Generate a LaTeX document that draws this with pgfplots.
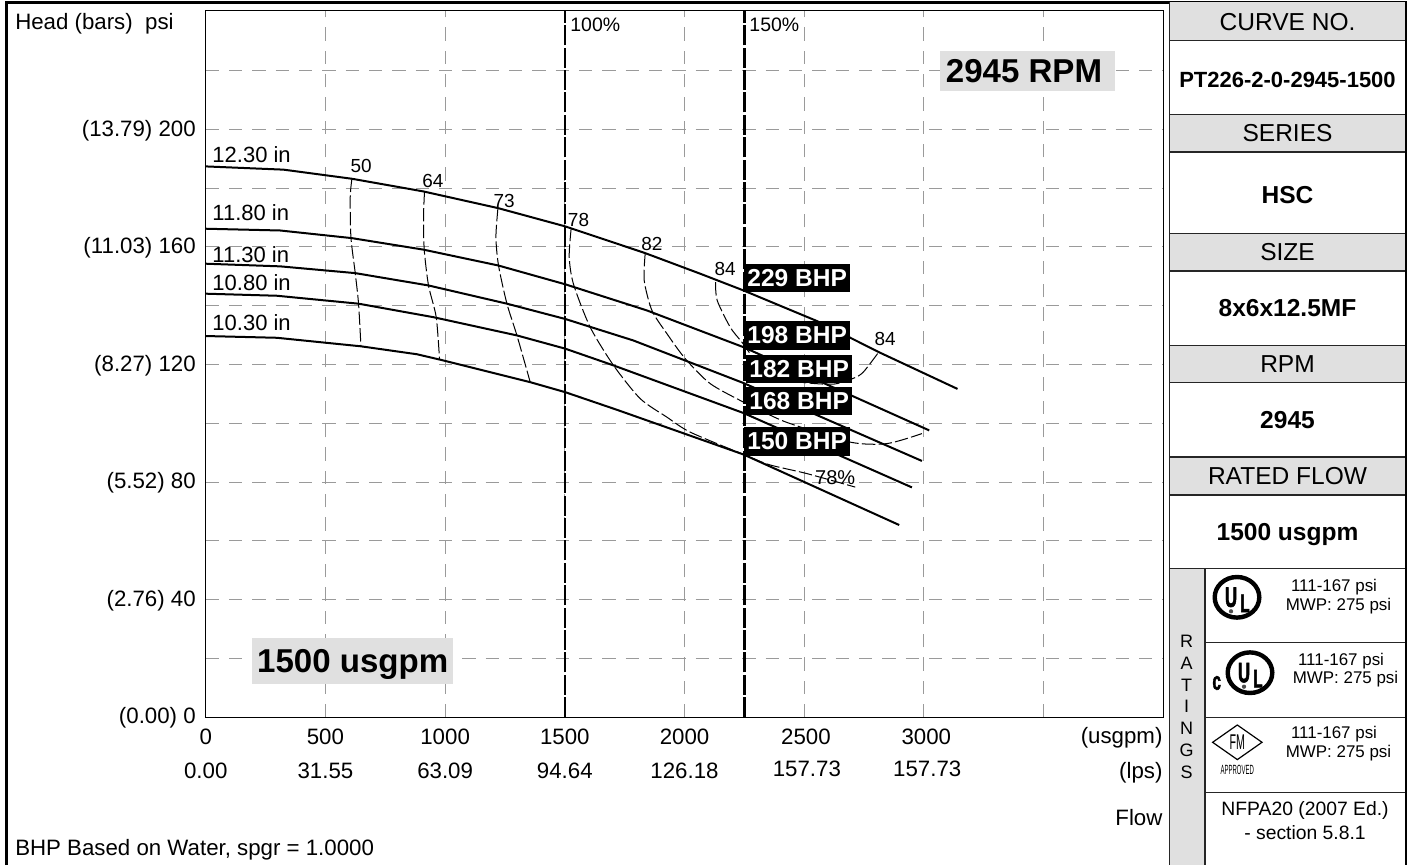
\documentclass[border=0pt]{standalone}
\usepackage{fontspec}
\usepackage{graphicx}
\usepackage{pgfplots}
\pgfplotsset{compat=1.18}
\setmainfont{Liberation Sans}
\newfontfamily\logofont[FakeBold=2.5]{Liberation Sans Bold}
\definecolor{panelgray}{HTML}{E0E0E0}
\definecolor{gridgray}{HTML}{9A9A9A}
\newcommand{\fs}[1]{\fontsize{#1}{#1}\selectfont}
\tikzset{
  head/.style={black, line width=1.5pt},
  eff/.style={black, line width=0.75pt, dash pattern=on 10pt off 2.5pt, smooth, tension=0.45},
  rated/.style={black, line width=1.9pt, dash pattern=on 15pt off 1.8pt},
  bhp/.style={fill=black, text=white, inner sep=0pt, minimum width=79.5pt, minimum height=21.4pt, font=\fs{18.4}\bfseries},
  effl/.style={inner sep=0pt, font=\fs{14.2}},
  diam/.style={inner sep=0pt, anchor=west, font=\fs{16.5}},
  banner/.style={fill=panelgray, inner sep=0pt, font=\fs{24.8}\bfseries, text height=17.8pt, text depth=0pt},
  cell/.style={inner sep=0pt, text height=13.2pt, text depth=0pt},
}
\begin{document}
\begin{tikzpicture}
\path[use as bounding box] (0,0) rectangle (1059.75pt,648.75pt);
\begin{axis}[
  at={(154.3pt,110.8pt)}, anchor=origin,
  scale only axis,
  width=718.2pt, height=530.2pt,
  xmin=0, xmax=4000, ymin=0, ymax=240.5,
  xtick={0,500,1000,1500,2000,2500,3000,3500},
  xticklabels={0\\0.00, 500\\31.55, 1000\\63.09, 1500\\94.64, 2000\hspace{4pt}\\126.18\hspace{3.5pt}, \hspace{2.5pt}2500\\[-1.3pt]\hspace{4pt}157.73, \hspace{3.5pt}3000\\[-1.3pt]\hspace{5pt}157.73, {}},
  ytick={0,40,80,120,160,200},
  yticklabels={(0.00) 0,(2.76) 40,(5.52) 80,(8.27) 120,(11.03) 160,(13.79) 200},
  minor ytick={20,60,100,140,180,220},
  major tick length=0pt, minor tick length=0pt,
  grid=both,
  major grid style={gridgray, line width=0.7pt, dash pattern=on 10pt off 7.5pt},
  minor grid style={gridgray, line width=0.7pt, dash pattern=on 10pt off 7.5pt},
  axis line style={black, line width=0.9pt},
  x tick label style={font=\fontsize{16.7}{25}\selectfont, align=center, anchor=north, inner sep=0pt, yshift=-8.9pt},
  y tick label style={font=\fs{16.7}, anchor=east, inner sep=0pt, xshift=-7.3pt, yshift=-0.7pt},
]
% head curves
\addplot[head] coordinates {(0,187.4) (325,186.3) (610.7,183.2) (908.5,178.9) (1221.8,173.2) (1501.6,167.0) (1835.8,157.9) (2065.5,150.9) (2246.4,145.2) (2553,134.8) (2817.4,124.0) (3140.3,111.7)};
\addplot[head] coordinates {(0,166.2) (311,165.6) (610.7,163.0) (908.5,159.1) (1221.8,153.7) (1501.6,147.3) (1842.9,138.4) (2246.4,125.9) (3022,97.6)};
\addplot[head] coordinates {(0,154.3) (311,153.4) (624.5,151.1) (930.6,146.9) (1258.1,140.7) (1501.6,135.5) (1785.7,128.2) (2246.4,113.7) (2991.6,87.2)};
\addplot[head] coordinates {(0,144.1) (297.4,143.4) (638.3,140.7) (951.5,136.1) (1299.9,129.9) (1501.6,125.4) (1703.4,119.7) (2246.4,103.5) (2949.8,78.2)};
\addplot[head] coordinates {(0,129.7) (297.4,129.1) (648.3,126.2) (882.2,123.5) (976.6,121.7) (1355.4,114.0) (1501.6,110.6) (1717.6,104.6) (2246.4,89.4) (2896.8,65.4)};
% efficiency curves
\addplot[eff] coordinates {(610.7,183.2) (603.6,177.0) (606.5,163.3) (624.5,151.1) (638.3,140.7) (648.3,126.2)};
\addplot[eff] coordinates {(913.9,178.9) (909.7,170.2) (912.7,159.1) (930.6,146.9) (962.8,136.1) (976.6,121.7)};
\addplot[eff] coordinates {(1220.5,173.2) (1212.2,163.3) (1223,153.7) (1258.1,140.7) (1299.9,129.9) (1355.4,114.0)};
\addplot[eff] coordinates {(1526.7,166.5) (1518.3,156.6) (1536.3,147.3) (1606,132.7) (1703.4,119.7) (1814.9,108.4) (1926.4,102.1) (2023.8,97.0) (2246.4,89.4) (2355,85.9) (2511.2,82.9) (2713,78.3)};
\addplot[eff] coordinates {(1835.8,157.9) (1831.6,148.6) (1863.8,138.4) (1926.4,130.5) (2002.9,122.0) (2107.3,113.5) (2246.4,107.2) (2344.1,103.3) (2441.5,99.9) (2692.1,93.6) (2845.4,93.1) (2991.6,96.5)};
\addplot[eff] coordinates {(2129.4,148.0) (2136.5,141.8) (2190.8,132.7) (2239.7,127.6) (2316.2,119.7) (2441.5,114.6) (2615.6,113.3) (2704.6,115.3) (2746.4,117.4) (2809,124.0)};
% 100% and 150% of rated flow
\addplot[rated] coordinates {(1500,0) (1500,240.5)};
\addplot[rated] coordinates {(2250,0) (2250,240.5)};
\node[effl, font=\fs{14.6}, anchor=west] at (axis cs:1522,235.7) {100\%};
\node[effl, font=\fs{14.6}, anchor=west] at (axis cs:2270,235.7) {150\%};
% diameters
\node[diam] at (axis cs:27,191.4) {12.30 in};
\node[diam] at (axis cs:27,171.7) {11.80 in};
\node[diam] at (axis cs:27,157.5) {11.30 in};
\node[diam] at (axis cs:27,147.9) {10.80 in};
\node[diam] at (axis cs:27,134.3) {10.30 in};
% efficiency labels
\node[effl] at (axis cs:649.5,187.4) {50};
\node[effl] at (axis cs:949,182.4) {64};
\node[effl] at (axis cs:1246.8,175.8) {73};
\node[effl] at (axis cs:1557.2,169.3) {78};
\node[effl] at (axis cs:1863.8,161.1) {82};
\node[effl] at (axis cs:2170,152.6) {84};
\node[effl] at (axis cs:2838.3,128.8) {84};
\node[effl, font=\fs{15}] at (axis cs:2629.4,81.5) {78\%};
% bhp
\node[bhp] at (axis cs:2470.7,149.5) {229 BHP};
\node[bhp] at (axis cs:2470.7,129.9) {198 BHP};
\node[bhp] at (axis cs:2479,118.5) {182 BHP};
\node[bhp] at (axis cs:2479,107.6) {168 BHP};
\node[bhp] at (axis cs:2470.7,93.9) {150 BHP};
% banners
\node[fill=panelgray, inner sep=0pt, minimum width=131pt, minimum height=30pt] at (axis cs:3433.5,220) {};
\node[banner, fill=none] at (axis cs:3418,220) {2945 RPM};
\node[banner, minimum width=151pt, minimum height=34pt] at (axis cs:614,19.2) {1500 usgpm};
\end{axis}
% frame and title block, in reference pixels
\begin{scope}[x=0.75pt, y=-0.75pt, yshift=648.75pt]
\draw[line width=2.2pt] (6.7,865) -- (6.7,2.5) -- (1406,2.5) -- (1406,865);
\node[anchor=west, inner sep=0pt, font=\fs{16.7}] at (15,24) {Head (bars)\ \ psi};
\node[anchor=east, inner sep=0pt, font=\fs{16.7}] at (1162.7,738) {(usgpm)};
\node[anchor=east, inner sep=0pt, font=\fs{16.7}] at (1162.7,773) {(lps)};
\node[anchor=east, inner sep=0pt, font=\fs{16.7}] at (1162.7,818) {Flow};
\node[anchor=west, inner sep=0pt, font=\fs{16.7}, text height=12pt, text depth=0pt] at (15,847) {BHP Based on Water, spgr = 1.0000};
% gray header rows
\foreach \a/\b in {2.5/40.3, 114.3/152, 233.7/271, 345.3/382.7, 457/495} \fill[panelgray] (1169.3,\a) rectangle (1406,\b);
\fill[panelgray] (1169.3,568.7) rectangle (1205,865);
\draw[line width=1.1pt, black!85] (1169.3,2.5) -- (1169.3,865);
\draw[line width=0.9pt, black!85] (1205,568.7) -- (1205,865);
\foreach \y in {40.3, 114.3, 152, 233.7, 271, 345.3, 382.7, 457, 495} \draw[line width=0.9pt, black!85] (1169.3,\y) -- (1406,\y);
\draw[line width=1.1pt, black!85] (1169.3,568.7) -- (1406,568.7);
\foreach \y in {642.7, 717.7, 792.3} \draw[line width=0.8pt, black!85] (1205,\y) -- (1406,\y);
\draw[line width=2.2pt] (1406,2.5) -- (1406,865);
\foreach \y/\t in {21.7/CURVE NO., 133/SERIES, 252/SIZE, 364/RPM, 476/RATED FLOW} \node[cell, font=\fs{18.4}] at (1287.5,\y) {\t};
\node[cell, text height=11.8pt, font=\fs{16.5}\bfseries] at (1287.5,80) {PT226-2-0-2945-1500};
\foreach \y/\t in {195/HSC, 308/8x6x12.5MF, 420/2945, 532/1500 usgpm} \node[cell, font=\fs{18.4}\bfseries] at (1287.5,\y) {\t};
\node[inner sep=0pt, align=center, font=\fontsize{13.5}{16.3}\selectfont] at (1186.7,706.7) {R\\A\\T\\I\\N\\G\\S};
% ratings
\foreach \x/\ya/\yb in {1334/586.7/606, 1341/660.7/679.3, 1334/734.3/753.3} {
  \node[inner sep=0pt, font=\fs{12.7}] at (\x,\ya) {111-167 psi};
  \node[inner sep=0pt, font=\fs{12.7}] at (\x+4.5,\yb) {MWP: 275 psi};
}
\node[inner sep=0pt, font=\fs{14.5}] at (1305,810.7) {NFPA20 (2007 Ed.)};
\node[inner sep=0pt, font=\fs{14.5}] at (1305,832.7) {- section 5.8.1};
% UL marks
\foreach \cx/\cy in {1237/597.3, 1250/672.7} {
  \draw[line width=3.3pt] (\cx,\cy) ellipse[x radius=22.3, y radius=20.3];
  \node[inner sep=0pt, font=\fs{21}\logofont] at (\cx-6,\cy) {\scalebox{0.6}[1]{U}};
  \node[inner sep=0pt, font=\fs{19}\logofont] at (\cx+8,\cy+6) {\scalebox{0.6}[1]{L}};
  \fill[black!70] (\cx-6,\cy+14) circle[radius=1.6pt];
}
\node[inner sep=0pt, font=\fs{19}\logofont] at (1216.7,683) {\scalebox{0.6}[1]{c}};
% FM mark
\draw[line width=0.9pt] (1212.6,742.3) -- (1237.3,725) -- (1262,742.3) -- (1237.3,759.6) -- cycle;
\node[inner sep=0pt, font=\fs{16}] at (1237.3,742.3) {\scalebox{0.5}[1]{FM}};
\node[inner sep=0pt, font=\fs{10}] at (1237.3,770) {\scalebox{0.45}[1]{APPROVED}};
\end{scope}
\end{tikzpicture}
\end{document}
